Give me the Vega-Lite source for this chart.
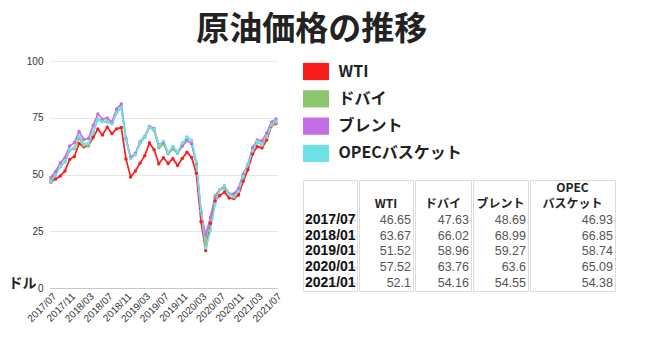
{
  "$schema": "https://vega.github.io/schema/vega-lite/v6.json",
  "background": "white",
  "padding": {"left": 8, "top": 14, "right": 5, "bottom": 5},
  "title": {"text": "原油価格の推移", "fontSize": 33, "font": "Noto Sans CJK JP", "fontWeight": "bold", "color": "#222222", "anchor": "middle", "offset": 9},
  "config": {
    "font": "Noto Sans CJK JP",
    "view": {"stroke": "#dcdcdc"}
  },
  "datasets": {
    "series": [{"series": "WTI"}, {"series": "ドバイ"}, {"series": "ブレント"}, {"series": "OPECバスケット"}],
    "table": [
      {"date": "2017/07", "series": "WTI", "value": "46.65"},
      {"date": "2018/01", "series": "WTI", "value": "63.67"},
      {"date": "2019/01", "series": "WTI", "value": "51.52"},
      {"date": "2020/01", "series": "WTI", "value": "57.52"},
      {"date": "2021/01", "series": "WTI", "value": "52.1"},
      {"date": "2017/07", "series": "ドバイ", "value": "47.63"},
      {"date": "2018/01", "series": "ドバイ", "value": "66.02"},
      {"date": "2019/01", "series": "ドバイ", "value": "58.96"},
      {"date": "2020/01", "series": "ドバイ", "value": "63.76"},
      {"date": "2021/01", "series": "ドバイ", "value": "54.16"},
      {"date": "2017/07", "series": "ブレント", "value": "48.69"},
      {"date": "2018/01", "series": "ブレント", "value": "68.99"},
      {"date": "2019/01", "series": "ブレント", "value": "59.27"},
      {"date": "2020/01", "series": "ブレント", "value": "63.6"},
      {"date": "2021/01", "series": "ブレント", "value": "54.55"},
      {"date": "2017/07", "series": "OPECバスケット", "value": "46.93"},
      {"date": "2018/01", "series": "OPECバスケット", "value": "66.85"},
      {"date": "2019/01", "series": "OPECバスケット", "value": "58.74"},
      {"date": "2020/01", "series": "OPECバスケット", "value": "65.09"},
      {"date": "2021/01", "series": "OPECバスケット", "value": "54.38"}
    ],
    "prices": [
      {"month":"2017/07","series":"WTI","price":46.65},{"month":"2017/08","series":"WTI","price":48.06},{"month":"2017/09","series":"WTI","price":49.3},{"month":"2017/10","series":"WTI","price":51.58},{"month":"2017/11","series":"WTI","price":56.66},{"month":"2017/12","series":"WTI","price":57.95},
      {"month":"2018/01","series":"WTI","price":63.67},{"month":"2018/02","series":"WTI","price":62.23},{"month":"2018/03","series":"WTI","price":62.71},{"month":"2018/04","series":"WTI","price":66.3},{"month":"2018/05","series":"WTI","price":70.0},{"month":"2018/06","series":"WTI","price":67.38},{"month":"2018/07","series":"WTI","price":70.87},{"month":"2018/08","series":"WTI","price":68.01},{"month":"2018/09","series":"WTI","price":70.1},{"month":"2018/10","series":"WTI","price":70.71},{"month":"2018/11","series":"WTI","price":56.87},{"month":"2018/12","series":"WTI","price":48.93},
      {"month":"2019/01","series":"WTI","price":51.52},{"month":"2019/02","series":"WTI","price":55.0},{"month":"2019/03","series":"WTI","price":58.22},{"month":"2019/04","series":"WTI","price":63.91},{"month":"2019/05","series":"WTI","price":60.9},{"month":"2019/06","series":"WTI","price":54.71},{"month":"2019/07","series":"WTI","price":57.35},{"month":"2019/08","series":"WTI","price":54.84},{"month":"2019/09","series":"WTI","price":56.96},{"month":"2019/10","series":"WTI","price":54.0},{"month":"2019/11","series":"WTI","price":57.04},{"month":"2019/12","series":"WTI","price":59.85},
      {"month":"2020/01","series":"WTI","price":57.52},{"month":"2020/02","series":"WTI","price":50.52},{"month":"2020/03","series":"WTI","price":29.21},{"month":"2020/04","series":"WTI","price":16.52},{"month":"2020/05","series":"WTI","price":28.56},{"month":"2020/06","series":"WTI","price":38.31},{"month":"2020/07","series":"WTI","price":40.71},{"month":"2020/08","series":"WTI","price":42.34},{"month":"2020/09","series":"WTI","price":39.63},{"month":"2020/10","series":"WTI","price":39.4},{"month":"2020/11","series":"WTI","price":40.94},{"month":"2020/12","series":"WTI","price":47.02},
      {"month":"2021/01","series":"WTI","price":52.1},{"month":"2021/02","series":"WTI","price":59.04},{"month":"2021/03","series":"WTI","price":62.33},{"month":"2021/04","series":"WTI","price":61.72},{"month":"2021/05","series":"WTI","price":65.17},{"month":"2021/06","series":"WTI","price":71.38},{"month":"2021/07","series":"WTI","price":72.49},

      {"month":"2017/07","series":"ドバイ","price":47.63},{"month":"2017/08","series":"ドバイ","price":50.64},{"month":"2017/09","series":"ドバイ","price":53.96},{"month":"2017/10","series":"ドバイ","price":55.58},{"month":"2017/11","series":"ドバイ","price":60.68},{"month":"2017/12","series":"ドバイ","price":61.32},
      {"month":"2018/01","series":"ドバイ","price":66.02},{"month":"2018/02","series":"ドバイ","price":62.76},{"month":"2018/03","series":"ドバイ","price":62.72},{"month":"2018/04","series":"ドバイ","price":68.31},{"month":"2018/05","series":"ドバイ","price":74.44},{"month":"2018/06","series":"ドバイ","price":73.54},{"month":"2018/07","series":"ドバイ","price":73.15},{"month":"2018/08","series":"ドバイ","price":72.5},{"month":"2018/09","series":"ドバイ","price":77.23},{"month":"2018/10","series":"ドバイ","price":79.42},{"month":"2018/11","series":"ドバイ","price":65.57},{"month":"2018/12","series":"ドバイ","price":57.27},
      {"month":"2019/01","series":"ドバイ","price":58.96},{"month":"2019/02","series":"ドバイ","price":64.6},{"month":"2019/03","series":"ドバイ","price":66.9},{"month":"2019/04","series":"ドバイ","price":70.94},{"month":"2019/05","series":"ドバイ","price":69.38},{"month":"2019/06","series":"ドバイ","price":61.77},{"month":"2019/07","series":"ドバイ","price":63.28},{"month":"2019/08","series":"ドバイ","price":59.12},{"month":"2019/09","series":"ドバイ","price":61.11},{"month":"2019/10","series":"ドバイ","price":59.39},{"month":"2019/11","series":"ドバイ","price":62.41},{"month":"2019/12","series":"ドバイ","price":64.86},
      {"month":"2020/01","series":"ドバイ","price":63.76},{"month":"2020/02","series":"ドバイ","price":54.3},{"month":"2020/03","series":"ドバイ","price":33.81},{"month":"2020/04","series":"ドバイ","price":20.39},{"month":"2020/05","series":"ドバイ","price":30.52},{"month":"2020/06","series":"ドバイ","price":40.79},{"month":"2020/07","series":"ドバイ","price":43.29},{"month":"2020/08","series":"ドバイ","price":44.0},{"month":"2020/09","series":"ドバイ","price":41.51},{"month":"2020/10","series":"ドバイ","price":40.68},{"month":"2020/11","series":"ドバイ","price":43.39},{"month":"2020/12","series":"ドバイ","price":49.96},
      {"month":"2021/01","series":"ドバイ","price":54.16},{"month":"2021/02","series":"ドバイ","price":60.9},{"month":"2021/03","series":"ドバイ","price":64.38},{"month":"2021/04","series":"ドバイ","price":62.88},{"month":"2021/05","series":"ドバイ","price":66.27},{"month":"2021/06","series":"ドバイ","price":71.62},{"month":"2021/07","series":"ドバイ","price":72.78},

      {"month":"2017/07","series":"ブレント","price":48.69},{"month":"2017/08","series":"ブレント","price":51.37},{"month":"2017/09","series":"ブレント","price":55.16},{"month":"2017/10","series":"ブレント","price":57.45},{"month":"2017/11","series":"ブレント","price":62.57},{"month":"2017/12","series":"ブレント","price":64.06},
      {"month":"2018/01","series":"ブレント","price":68.99},{"month":"2018/02","series":"ブレント","price":65.42},{"month":"2018/03","series":"ブレント","price":65.85},{"month":"2018/04","series":"ブレント","price":71.63},{"month":"2018/05","series":"ブレント","price":76.65},{"month":"2018/06","series":"ブレント","price":74.38},{"month":"2018/07","series":"ブレント","price":74.85},{"month":"2018/08","series":"ブレント","price":73.08},{"month":"2018/09","series":"ブレント","price":78.87},{"month":"2018/10","series":"ブレント","price":81.12},{"month":"2018/11","series":"ブレント","price":65.72},{"month":"2018/12","series":"ブレント","price":57.61},
      {"month":"2019/01","series":"ブレント","price":59.27},{"month":"2019/02","series":"ブレント","price":63.99},{"month":"2019/03","series":"ブレント","price":66.41},{"month":"2019/04","series":"ブレント","price":71.16},{"month":"2019/05","series":"ブレント","price":70.29},{"month":"2019/06","series":"ブレント","price":63.05},{"month":"2019/07","series":"ブレント","price":64.19},{"month":"2019/08","series":"ブレント","price":59.49},{"month":"2019/09","series":"ブレント","price":62.29},{"month":"2019/10","series":"ブレント","price":59.63},{"month":"2019/11","series":"ブレント","price":62.71},{"month":"2019/12","series":"ブレント","price":65.17},
      {"month":"2020/01","series":"ブレント","price":63.6},{"month":"2020/02","series":"ブレント","price":55.04},{"month":"2020/03","series":"ブレント","price":33.34},{"month":"2020/04","series":"ブレント","price":23.34},{"month":"2020/05","series":"ブレント","price":31.02},{"month":"2020/06","series":"ブレント","price":39.93},{"month":"2020/07","series":"ブレント","price":43.35},{"month":"2020/08","series":"ブレント","price":45.07},{"month":"2020/09","series":"ブレント","price":41.57},{"month":"2020/10","series":"ブレント","price":41.5},{"month":"2020/11","series":"ブレント","price":43.9},{"month":"2020/12","series":"ブレント","price":50.17},
      {"month":"2021/01","series":"ブレント","price":54.55},{"month":"2021/02","series":"ブレント","price":61.9},{"month":"2021/03","series":"ブレント","price":65.24},{"month":"2021/04","series":"ブレント","price":64.79},{"month":"2021/05","series":"ブレント","price":68.34},{"month":"2021/06","series":"ブレント","price":73.07},{"month":"2021/07","series":"ブレント","price":74.46},

      {"month":"2017/07","series":"OPECバスケット","price":46.93},{"month":"2017/08","series":"OPECバスケット","price":49.6},{"month":"2017/09","series":"OPECバスケット","price":53.44},{"month":"2017/10","series":"OPECバスケット","price":55.5},{"month":"2017/11","series":"OPECバスケット","price":60.74},{"month":"2017/12","series":"OPECバスケット","price":62.06},
      {"month":"2018/01","series":"OPECバスケット","price":66.85},{"month":"2018/02","series":"OPECバスケット","price":63.48},{"month":"2018/03","series":"OPECバスケット","price":63.76},{"month":"2018/04","series":"OPECバスケット","price":68.43},{"month":"2018/05","series":"OPECバスケット","price":74.11},{"month":"2018/06","series":"OPECバスケット","price":73.22},{"month":"2018/07","series":"OPECバスケット","price":73.27},{"month":"2018/08","series":"OPECバスケット","price":72.26},{"month":"2018/09","series":"OPECバスケット","price":77.18},{"month":"2018/10","series":"OPECバスケット","price":79.39},{"month":"2018/11","series":"OPECバスケット","price":65.33},{"month":"2018/12","series":"OPECバスケット","price":56.94},
      {"month":"2019/01","series":"OPECバスケット","price":58.74},{"month":"2019/02","series":"OPECバスケット","price":63.83},{"month":"2019/03","series":"OPECバスケット","price":66.37},{"month":"2019/04","series":"OPECバスケット","price":70.78},{"month":"2019/05","series":"OPECバスケット","price":69.97},{"month":"2019/06","series":"OPECバスケット","price":62.92},{"month":"2019/07","series":"OPECバスケット","price":64.71},{"month":"2019/08","series":"OPECバスケット","price":59.62},{"month":"2019/09","series":"OPECバスケット","price":62.36},{"month":"2019/10","series":"OPECバスケット","price":59.91},{"month":"2019/11","series":"OPECバスケット","price":63.83},{"month":"2019/12","series":"OPECバスケット","price":66.48},
      {"month":"2020/01","series":"OPECバスケット","price":65.09},{"month":"2020/02","series":"OPECバスケット","price":55.49},{"month":"2020/03","series":"OPECバスケット","price":33.92},{"month":"2020/04","series":"OPECバスケット","price":17.66},{"month":"2020/05","series":"OPECバスケット","price":25.17},{"month":"2020/06","series":"OPECバスケット","price":36.89},{"month":"2020/07","series":"OPECバスケット","price":43.42},{"month":"2020/08","series":"OPECバスケット","price":44.96},{"month":"2020/09","series":"OPECバスケット","price":41.54},{"month":"2020/10","series":"OPECバスケット","price":40.08},{"month":"2020/11","series":"OPECバスケット","price":42.61},{"month":"2020/12","series":"OPECバスケット","price":49.17},
      {"month":"2021/01","series":"OPECバスケット","price":54.38},{"month":"2021/02","series":"OPECバスケット","price":60.41},{"month":"2021/03","series":"OPECバスケット","price":64.56},{"month":"2021/04","series":"OPECバスケット","price":63.24},{"month":"2021/05","series":"OPECバスケット","price":66.91},{"month":"2021/06","series":"OPECバスケット","price":71.89},{"month":"2021/07","series":"OPECバスケット","price":73.53}
    ]
  },
  "spacing": 18,
  "hconcat": [
    {
      "width": 227,
      "height": 227,
      "view": {"stroke": null},
      "data": {"name": "prices"},
      "encoding": {
        "x": {
          "field": "month", "type": "ordinal",
          "scale": {"type": "point", "padding": 0.2},
          "axis": {
            "values": ["2017/07","2017/11","2018/03","2018/07","2018/11","2019/03","2019/07","2019/11","2020/03","2020/07","2020/11","2021/03","2021/07"],
            "labelAngle": -45, "labelFontSize": 10, "labelFont": "Liberation Sans", "labelColor": "#333333",
            "ticks": false, "domainColor": "#c8c8c8", "title": null, "labelPadding": 3, "grid": false
          }
        },
        "y": {
          "field": "price", "type": "quantitative",
          "scale": {"domain": [0, 100], "nice": false},
          "axis": {
            "values": [0, 25, 50, 75, 100],
            "title": "ドル", "titleAngle": 0, "titleX": -42, "titleY": 222, "titleAlign": "left", "titleBaseline": "middle",
            "titleFontSize": 14, "titleFontWeight": "bold", "titleColor": "#222222",
            "domain": false, "ticks": false, "labelPadding": 7, "gridColor": "#e6e6e6",
            "labelFontSize": 10, "labelFont": "Liberation Sans", "labelColor": "#333333"
          }
        },
        "color": {
          "field": "series", "type": "nominal",
          "scale": {"domain": ["WTI", "ドバイ", "ブレント", "OPECバスケット"], "range": ["#f81e1e", "#8cc770", "#c36ee6", "#6ce2e8"]},
          "legend": null
        }
      },
      "layer": [
        {"mark": {"type": "line", "strokeWidth": 1.7}},
        {"mark": {"type": "point", "filled": true, "size": 12, "opacity": 1}}
      ]
    },
    {
      "spacing": 15,
      "vconcat": [
        {
          "width": 26,
          "height": 103,
          "view": {"stroke": null},
          "data": {"name": "series"},
          "mark": {"type": "bar"},
          "encoding": {
            "y": {
              "field": "series", "type": "nominal", "sort": null,
              "scale": {"domain": ["WTI", "ドバイ", "ブレント", "OPECバスケット"], "paddingInner": 0.37, "paddingOuter": 0.07},
              "axis": {"orient": "right", "ticks": false, "domain": false, "grid": false, "title": null,
                "labelFontSize": 16, "labelFontWeight": "bold", "labelColor": "#222222", "labelPadding": 9,
                "labelFont": "Noto Sans CJK JP",
                "labelExpr": "datum.value == 'WTI' ? ' WTI' : datum.value"}
            },
            "color": {
              "field": "series", "type": "nominal",
              "scale": {"domain": ["WTI", "ドバイ", "ブレント", "OPECバスケット"], "range": ["#f81e1e", "#8cc770", "#c36ee6", "#6ce2e8"]},
              "legend": null
            }
          }
        },
        {
          "spacing": 0,
          "hconcat": [
            {
              "width": 54, "height": 111,
              "data": {"name": "table"},
              "transform": [{"filter": "datum.series == 'WTI'"}],
              "mark": {"type": "text", "align": "left", "dx": -25, "fontSize": 14, "fontWeight": "bold", "font": "Liberation Sans", "color": "#111111"},
              "encoding": {
                "y": {"field": "date", "type": "ordinal",
                  "scale": {"domain": ["h1","h2","2017/07","2018/01","2019/01","2020/01","2021/01"], "paddingInner": 0, "paddingOuter": 0},
                  "axis": {"values": ["2017/07","2018/01","2019/01","2020/01","2021/01"], "bandPosition": 0, "labels": false, "ticks": false, "domain": false, "title": null, "grid": true, "gridColor": "#dcdcdc"}},
                "text": {"field": "date", "type": "nominal"}
              }
            },
            {
              "width": 54, "height": 111,
              "layer": [
                {
                  "data": {"name": "table"},
                  "transform": [{"filter": "datum.series == 'WTI'"}],
                  "mark": {"type": "text", "align": "right", "dx": 25, "fontSize": 12.5, "font": "Liberation Sans", "color": "#555555"},
                  "encoding": {
                    "y": {"field": "date", "type": "ordinal",
                      "scale": {"domain": ["h1","h2","2017/07","2018/01","2019/01","2020/01","2021/01"], "paddingInner": 0, "paddingOuter": 0},
                      "axis": {"values": ["2017/07","2018/01","2019/01","2020/01","2021/01"], "bandPosition": 0, "labels": false, "ticks": false, "domain": false, "title": null, "grid": true, "gridColor": "#dcdcdc"}},
                    "text": {"field": "value", "type": "nominal"}
                  }
                },
                {
                  "data": {"values": [{"line": "h2", "label": "WTI"}]},
                  "mark": {"type": "text", "fontSize": 12, "fontWeight": "bold", "color": "#222222"},
                  "encoding": {
                    "y": {"field": "line", "type": "ordinal", "scale": {"domain": ["h1","h2","2017/07","2018/01","2019/01","2020/01","2021/01"], "paddingInner": 0, "paddingOuter": 0}, "axis": null},
                    "text": {"field": "label", "type": "nominal"}
                  }
                }
              ]
            },
            {
              "width": 56, "height": 111,
              "layer": [
                {
                  "data": {"name": "table"},
                  "transform": [{"filter": "datum.series == 'ドバイ'"}],
                  "mark": {"type": "text", "align": "right", "dx": 26, "fontSize": 12.5, "font": "Liberation Sans", "color": "#555555"},
                  "encoding": {
                    "y": {"field": "date", "type": "ordinal",
                      "scale": {"domain": ["h1","h2","2017/07","2018/01","2019/01","2020/01","2021/01"], "paddingInner": 0, "paddingOuter": 0},
                      "axis": {"values": ["2017/07","2018/01","2019/01","2020/01","2021/01"], "bandPosition": 0, "labels": false, "ticks": false, "domain": false, "title": null, "grid": true, "gridColor": "#dcdcdc"}},
                    "text": {"field": "value", "type": "nominal"}
                  }
                },
                {
                  "data": {"values": [{"line": "h2", "label": "ドバイ"}]},
                  "mark": {"type": "text", "fontSize": 12, "fontWeight": "bold", "color": "#222222"},
                  "encoding": {
                    "y": {"field": "line", "type": "ordinal", "scale": {"domain": ["h1","h2","2017/07","2018/01","2019/01","2020/01","2021/01"], "paddingInner": 0, "paddingOuter": 0}, "axis": null},
                    "text": {"field": "label", "type": "nominal"}
                  }
                }
              ]
            },
            {
              "width": 55, "height": 111,
              "layer": [
                {
                  "data": {"name": "table"},
                  "transform": [{"filter": "datum.series == 'ブレント'"}],
                  "mark": {"type": "text", "align": "right", "dx": 25.5, "fontSize": 12.5, "font": "Liberation Sans", "color": "#555555"},
                  "encoding": {
                    "y": {"field": "date", "type": "ordinal",
                      "scale": {"domain": ["h1","h2","2017/07","2018/01","2019/01","2020/01","2021/01"], "paddingInner": 0, "paddingOuter": 0},
                      "axis": {"values": ["2017/07","2018/01","2019/01","2020/01","2021/01"], "bandPosition": 0, "labels": false, "ticks": false, "domain": false, "title": null, "grid": true, "gridColor": "#dcdcdc"}},
                    "text": {"field": "value", "type": "nominal"}
                  }
                },
                {
                  "data": {"values": [{"line": "h2", "label": "ブレント"}]},
                  "mark": {"type": "text", "fontSize": 12, "fontWeight": "bold", "color": "#222222"},
                  "encoding": {
                    "y": {"field": "line", "type": "ordinal", "scale": {"domain": ["h1","h2","2017/07","2018/01","2019/01","2020/01","2021/01"], "paddingInner": 0, "paddingOuter": 0}, "axis": null},
                    "text": {"field": "label", "type": "nominal"}
                  }
                }
              ]
            },
            {
              "width": 85, "height": 111,
              "layer": [
                {
                  "data": {"name": "table"},
                  "transform": [{"filter": "datum.series == 'OPECバスケット'"}],
                  "mark": {"type": "text", "align": "right", "dx": 40.5, "fontSize": 12.5, "font": "Liberation Sans", "color": "#555555"},
                  "encoding": {
                    "y": {"field": "date", "type": "ordinal",
                      "scale": {"domain": ["h1","h2","2017/07","2018/01","2019/01","2020/01","2021/01"], "paddingInner": 0, "paddingOuter": 0},
                      "axis": {"values": ["2017/07","2018/01","2019/01","2020/01","2021/01"], "bandPosition": 0, "labels": false, "ticks": false, "domain": false, "title": null, "grid": true, "gridColor": "#dcdcdc"}},
                    "text": {"field": "value", "type": "nominal"}
                  }
                },
                {
                  "data": {"values": [{"line": "h1", "label": "OPEC"}, {"line": "h2", "label": "バスケット"}]},
                  "mark": {"type": "text", "fontSize": 12, "fontWeight": "bold", "color": "#222222"},
                  "encoding": {
                    "y": {"field": "line", "type": "ordinal", "scale": {"domain": ["h1","h2","2017/07","2018/01","2019/01","2020/01","2021/01"], "paddingInner": 0, "paddingOuter": 0}, "axis": null},
                    "text": {"field": "label", "type": "nominal"}
                  }
                }
              ]
            }
          ]
        }
      ]
    }
  ]
}
